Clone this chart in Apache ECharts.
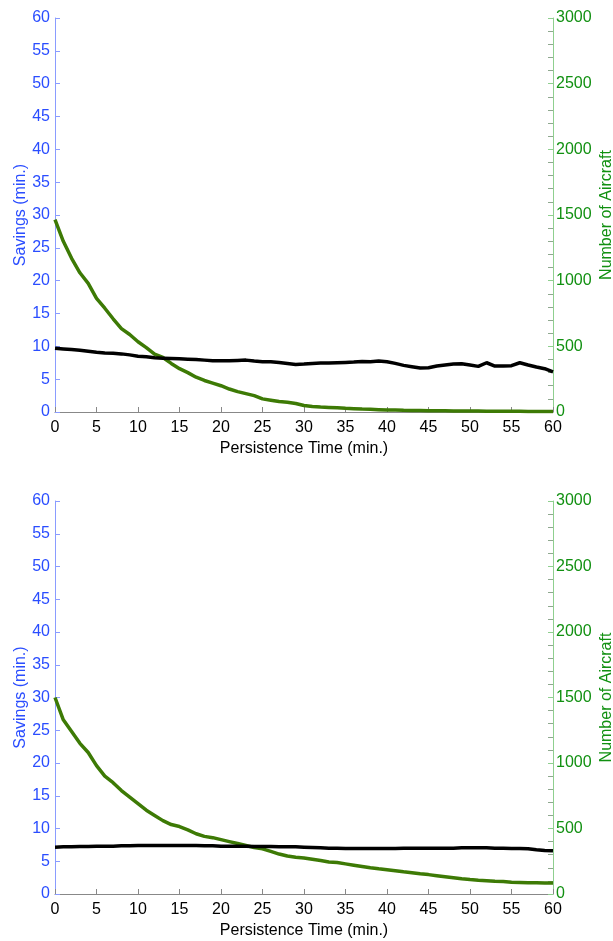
<!DOCTYPE html>
<html>
<head>
<meta charset="utf-8">
<script src="https://cdn.jsdelivr.net/npm/echarts@6/dist/echarts.min.js"></script>
<style>html,body{margin:0;padding:0;background:#fff;}#c{width:613px;height:941px;}</style>
</head>
<body>
<div id="c"></div>
<script>
const minutes = [];
for (let i = 0; i <= 60; i++) minutes.push(i);

const topSavings = [9.7,9.6,9.5,9.4,9.25,9.1,9.0,8.95,8.85,8.7,8.5,8.4,8.25,8.2,8.15,8.1,8.05,8.0,7.9,7.8,7.8,7.8,7.85,7.9,7.75,7.65,7.65,7.55,7.4,7.25,7.3,7.4,7.45,7.45,7.5,7.55,7.6,7.7,7.65,7.75,7.65,7.4,7.1,6.9,6.7,6.75,7.0,7.15,7.3,7.35,7.15,6.95,7.5,7.0,7.0,7.05,7.5,7.15,6.85,6.6,6.1];
const topAircraft = [1465,1300,1170,1060,980,865,790,710,635,590,535,490,440,415,370,330,300,265,240,220,200,175,155,140,125,100,90,80,75,65,50,42,38,35,32,28,25,22,20,18,16,15,13,12,11,10,9,9,8,8,7,7,6,6,5,5,5,4,4,3,3];

const botSavings = [7.15,7.2,7.2,7.25,7.25,7.3,7.3,7.3,7.35,7.35,7.4,7.4,7.4,7.4,7.4,7.4,7.4,7.4,7.35,7.35,7.3,7.3,7.3,7.3,7.25,7.25,7.25,7.2,7.2,7.2,7.15,7.1,7.05,7.0,7.0,6.95,6.95,6.95,6.95,6.95,6.95,6.95,7.0,7.0,7.0,7.0,7.0,7.0,7.0,7.05,7.05,7.05,7.05,7.0,7.0,6.95,6.95,6.9,6.75,6.65,6.6];
const botAircraft = [1500,1330,1240,1150,1080,980,900,850,790,740,690,640,600,560,530,515,490,460,440,430,415,400,385,370,355,345,325,305,290,280,275,265,255,245,240,230,220,210,200,192,185,178,170,163,155,148,140,132,124,116,110,105,102,98,95,90,88,86,85,84,84];

const xTicks = [0,5,10,15,20,25,30,35,40,45,50,55,60];
const leftTicks = [0,5,10,15,20,25,30,35,40,45,50,55,60];
const rightTicks = [0,500,1000,1500,2000,2500,3000];

const pairs = (xs, ys) => xs.map((x, i) => [x, ys[i]]);
const FONT = 'Liberation Sans';
const FS = 16;
const plain = v => String(v);

function xAxisCfg(gi) {
  return {
    type: 'value', gridIndex: gi, min: xTicks[0], max: xTicks[xTicks.length - 1], interval: xTicks[1] - xTicks[0],
    name: 'Persistence Time (min.)', nameLocation: 'middle', nameGap: 29, nameMoveOverlap: false,
    nameTextStyle: { color: '#000', fontSize: FS, fontFamily: FONT },
    axisLine: { show: true, lineStyle: { color: '#888', width: 1 } },
    axisTick: { show: true, inside: true, length: 5, lineStyle: { color: '#888' } },
    axisLabel: { color: '#000', fontSize: FS, fontFamily: FONT, margin: 8, formatter: plain },
    splitLine: { show: false }
  };
}
function leftCfg(gi) {
  return {
    type: 'value', gridIndex: gi, min: leftTicks[0], max: leftTicks[leftTicks.length - 1], interval: leftTicks[1] - leftTicks[0], position: 'left',
    name: 'Savings (min.)', nameLocation: 'middle', nameGap: 26, nameRotate: 90, nameMoveOverlap: false,
    nameTextStyle: { color: '#2a4dff', fontSize: FS, fontFamily: FONT },
    axisLine: { show: true, lineStyle: { color: '#8a9cff', width: 1 } },
    axisTick: { show: true, inside: true, length: 5, lineStyle: { color: '#8a9cff' } },
    axisLabel: { color: '#2a4dff', fontSize: FS, fontFamily: FONT, margin: 5, formatter: plain },
    splitLine: { show: false }
  };
}
function rightCfg(gi) {
  return {
    type: 'value', gridIndex: gi, min: rightTicks[0], max: rightTicks[rightTicks.length - 1], interval: rightTicks[1] - rightTicks[0], position: 'right',
    name: 'Number of Aircraft', nameLocation: 'middle', nameGap: 46, nameRotate: 90, nameMoveOverlap: false,
    nameTextStyle: { color: '#119011', fontSize: FS, fontFamily: FONT },
    axisLine: { show: true, lineStyle: { color: '#8fcf8f', width: 1 } },
    axisTick: { show: true, inside: true, length: 5, lineStyle: { color: '#8fcf8f' } },
    minorTick: { show: true, splitNumber: 5, length: 5, lineStyle: { color: '#8fa88f' } },
    axisLabel: { color: '#119011', fontSize: FS, fontFamily: FONT, margin: 3, formatter: plain },
    splitLine: { show: false }
  };
}
function lineSeries(xi, yi, data, color, z) {
  return {
    type: 'line', xAxisIndex: xi, yAxisIndex: yi, data: data, showSymbol: false,
    symbol: 'none', smooth: false, z: z,
    lineStyle: { color: color, width: 3.5 }
  };
}

const chart = echarts.init(document.getElementById('c'), null, { renderer: 'canvas' });
chart.setOption({
  animation: false,
  backgroundColor: '#fff',
  grid: [
    { left: 55, right: 60, top: 18, height: 394, containLabel: false, outerBoundsMode: 'none' },
    { left: 55, right: 60, top: 501, height: 393, containLabel: false, outerBoundsMode: 'none' }
  ],
  xAxis: [xAxisCfg(0), xAxisCfg(1)],
  yAxis: [leftCfg(0), rightCfg(0), leftCfg(1), rightCfg(1)],
  series: [
    lineSeries(0, 0, pairs(minutes, topSavings), '#000000', 3),
    lineSeries(0, 1, pairs(minutes, topAircraft), '#3d7a05', 2),
    lineSeries(1, 2, pairs(minutes, botSavings), '#000000', 3),
    lineSeries(1, 3, pairs(minutes, botAircraft), '#3d7a05', 2)
  ]
});
</script>
</body>
</html>
